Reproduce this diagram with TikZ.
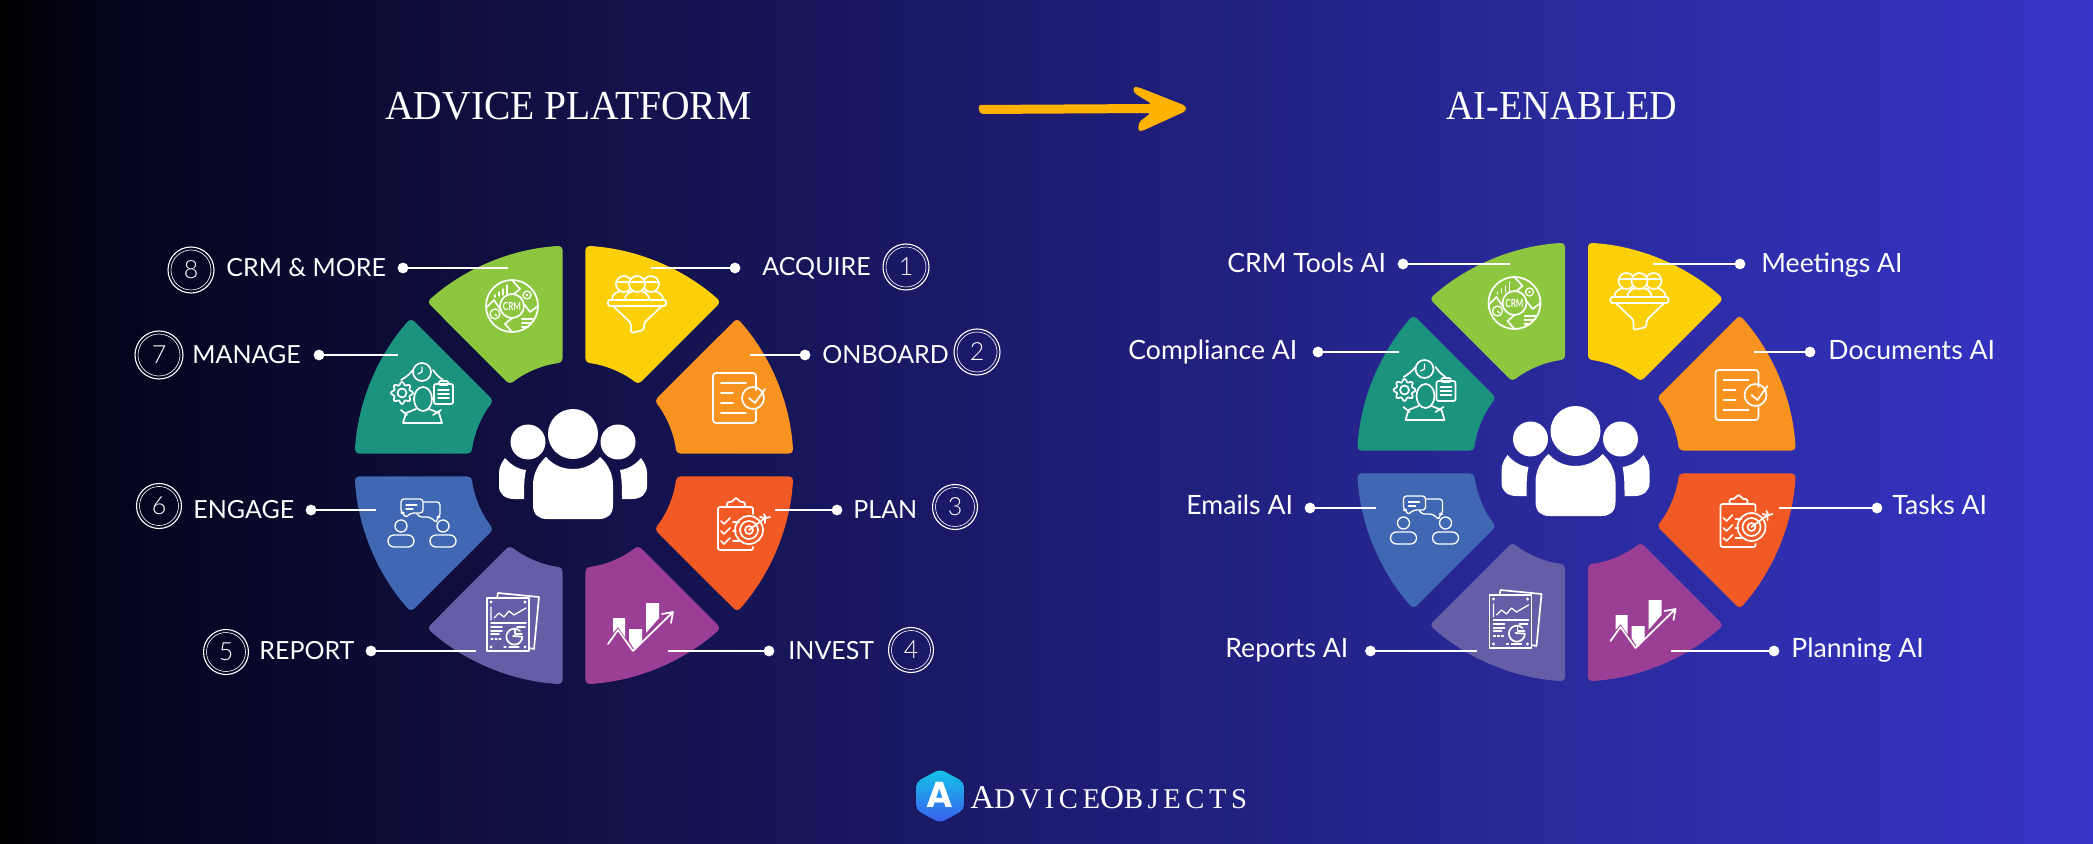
\documentclass[tikz,border=0pt]{standalone}
\usepackage{graphicx}
\usepackage{fontspec}
\setmainfont{Lato}
\newfontfamily\titlefont{Liberation Serif}
\newfontfamily\logofont[LetterSpace=16]{Liberation Serif}
\newfontfamily\logoA{Poppins}
\newfontfamily\thinfont{Lato Light}
\definecolor{bgA}{HTML}{000000}\definecolor{bgA2}{HTML}{020210}\definecolor{bgB}{HTML}{04041E}\definecolor{bgC}{HTML}{100F40}
\definecolor{bgD}{HTML}{1E1D75}\definecolor{bgE}{HTML}{2A2A9C}\definecolor{bgF}{HTML}{3634C6}
\definecolor{cgreen}{HTML}{8DC63F}\definecolor{cyellow}{HTML}{FCD008}\definecolor{corange}{HTML}{F8931F}
\definecolor{cred}{HTML}{F15A24}\definecolor{cpurple}{HTML}{9B3F96}\definecolor{cviolet}{HTML}{655EA6}
\definecolor{cblue}{HTML}{4068B2}\definecolor{cteal}{HTML}{1C937F}\definecolor{carrow}{HTML}{FFB300}
\definecolor{hexA}{HTML}{12C6E8}\definecolor{hexB}{HTML}{3C5CF0}
\pgfdeclarehorizontalshading{bgshade}{100bp}{color(0bp)=(bgA);color(25bp)=(bgA);color(26.4bp)=(bgA2);color(27.9bp)=(bgB);color(36.9bp)=(bgC);color(51.3bp)=(bgD);color(62.3bp)=(bgE);color(75bp)=(bgF);color(100bp)=(bgF)}
\tikzset{
 icon/.style={draw=white,line width=.85pt,line join=round,line cap=round},
 thinicon/.style={draw=white,line width=.65pt,line join=round,line cap=round},
 lab/.style={text=white,anchor=base west,inner sep=0pt,font=\fontsize{12.5}{15}\selectfont},
 rlab/.style={text=white,anchor=base west,inner sep=0pt,font=\fontsize{13.3}{16}\selectfont},
 dotn/.style={circle,fill=white,inner sep=0pt,minimum size=5.4pt},
 conn/.style={draw=white,line width=1.2pt},
 ringn/.style={circle,draw=white,line width=.55pt,inner sep=0pt,text=white,font=\thinfont\fontsize{12.5}{14}\selectfont},
 titlen/.style={text=white,anchor=base west,inner sep=0pt,font=\titlefont\fontsize{20.6}{24}\selectfont},
}
\newcommand\seg[2]{%
 \pgfmathsetmacro\aA{45*#1+3.0}\pgfmathsetmacro\aB{45*#1+45-3.0}%
 \pgfmathsetmacro\bA{45*#1+6.4}\pgfmathsetmacro\bB{45*#1+45-6.4}%
 \fill[#2,rounded corners=2pt] (\aA:219.5) arc (\aA:\aB:219.5) -- (\bB:103) arc (\bB:\bA:103) -- cycle;}
\newcommand\wheel[3]{%
\begin{scope}[shift={(#1,#2)}]
 \seg{0}{cred}\seg{1}{cpurple}\seg{2}{cviolet}\seg{3}{cblue}\seg{4}{cteal}\seg{5}{cgreen}\seg{6}{cyellow}\seg{7}{corange}
 % centre people
 \fill[white] (-1,-31) circle (25) (-46,-23) circle (17.5) (44,-23) circle (17.5);
 \fill[white] (-28,-8) .. controls (-20,1) and (-10,4) .. (-1,4) .. controls (8,4) and (18,1) .. (26,-8) .. controls (33,-2) and (39,8) .. (39,20) -- (39,40) .. controls (39,50) and (33,54) .. (25,54) -- (-27,54) .. controls (-35,54) and (-41,50) .. (-41,40) -- (-41,20) .. controls (-41,8) and (-35,-2) .. (-28,-8) -- cycle;
 \fill[white] (-69,-7) .. controls (-63,0) and (-56,4) .. (-48,5) .. controls (-50,14) and (-50,24) .. (-50,34) -- (-60,34) .. controls (-69,34) and (-75,29) .. (-75,21) -- (-75,8) .. controls (-75,2) and (-72,-3) .. (-69,-7) -- cycle;
 \fill[white] (67,-7) .. controls (61,0) and (54,4) .. (46,5) .. controls (48,14) and (48,24) .. (48,34) -- (58,34) .. controls (67,34) and (73,29) .. (73,21) -- (73,8) .. controls (73,2) and (70,-3) .. (67,-7) -- cycle;
 % CRM icon
 \begin{scope}[shift={(-62,-159)}]
  \draw[icon] (0,0) circle (26) (0,0) circle (12);
  \draw[icon] (0,-26) -- (8,-17) -- (2,-12) (12,-2) -- (18,6) -- (26,0) (0,12) -- (-7,18) -- (0,26) (-12,3) -- (-18,-6) -- (-26,2);
  \draw[thinicon] (-17,-11) -- (-17,-9) (-13,-14) -- (-13,-10) (-9,-17) -- (-9,-11) (-5,-21) -- (-5,-12);
  \draw[thinicon] (15,-11) circle (4); \fill[white] (15,-11) circle (1.4);
  \draw[thinicon] (-17,8) circle (5) (-17,8) -- (-15,10);
  \draw[icon] (10,13) -- (21,13) (10,17) -- (19,17) (10,21) -- (16,21);
  \node[text=white,inner sep=0pt,font=\fontsize{5.6}{6}\selectfont\bfseries] (#3crm) at (0,0) {\scalebox{.72}[1]{CRM}};
 \end{scope}
 % teal icon
 \draw[icon] (-152,-93) circle (9);
 \draw[thinicon] (-152,-98) -- (-152,-93) -- (-156,-91);
 \draw[icon] plot[domain=0:360,samples=65,smooth] ({-172+(9.5+1.5*cos(8*\x))*cos(\x)},{-72+(9.5+1.5*cos(8*\x))*sin(\x)});
 \draw[icon] (-172,-72) circle (4.5);
 \draw[icon,rounded corners=1pt] (-140,-81) rectangle (-121,-61);
 \draw[icon,rounded corners=.5pt] (-135,-84) rectangle (-126,-80);
 \draw[icon] (-136,-75) -- (-125,-75) (-136,-71) -- (-125,-71) (-136,-67) -- (-125,-67);
 \draw[icon] (-151,-66) ellipse (9 and 12);
 \draw[icon] (-171,-42) -- (-168,-52) -- (-158,-56) (-132,-42) -- (-135,-52) -- (-145,-56) (-171,-42) -- (-132,-42);
 \draw[icon] (-173,-85) to[bend left=10] (-161,-95) (-141,-95) to[bend left=10] (-131,-85) (-173,-55) -- (-167,-50) (-133,-55) -- (-141,-50);
 % funnel icon
 \foreach \hx/\hh in {50/cyellow,77/cyellow,63/cyellow}{
  \filldraw[icon,fill=\hh] (\hx-12,-165) .. controls (\hx-12,-172) and (\hx-6,-174) .. (\hx,-174) .. controls (\hx+6,-174) and (\hx+12,-172) .. (\hx+12,-165) -- cycle;
  \filldraw[icon,fill=\hh] (\hx,-181) circle (8);
  \draw[thinicon] (\hx-8,-183) -- (\hx+8,-183);
 }
 \draw[icon,rounded corners=1pt] (34,-165) rectangle (92,-159);
 \draw[icon,rounded corners=1pt] (39,-159) -- (57,-142) -- (57,-132) -- (70,-135) -- (70,-142) -- (88,-159);
 % document icon
 \draw[icon,rounded corners=1.5pt] (182,-75) -- (182,-92) -- (139,-92) -- (139,-42) -- (182,-42) -- (182,-55);
 \draw[icon] (147,-82) -- (172,-82) (147,-72) -- (159,-72) (147,-62) -- (159,-62) (147,-52) -- (172,-52);
 \draw[icon] (179,-67) circle (11);
 \draw[icon] (175,-67) -- (181,-62) -- (191,-76);
 % plan icon
 \draw[icon,rounded corners=1pt] (179,49) -- (179,42) -- (144,42) -- (144,85) -- (179,85) -- (179,82);
 \draw[icon,rounded corners=1pt] (153,42) -- (153,37) -- (159,37) -- (160,33) -- (164,33) -- (165,37) -- (171,37) -- (171,42) -- cycle;
 \draw[icon] (147,56) -- (150,59) -- (156,53) (147,66) -- (150,69) -- (156,63) (147,76) -- (150,79) -- (156,73) (159,57) -- (165,57) (159,66) -- (162,66) (159,76) -- (165,76);
 \draw[icon] (175,65) circle (14) (175,65) circle (9) (175,65) circle (4);
 \draw[icon] (175,65) -- (191,53) (186,52) -- (191,53) -- (191,58) (190,49) -- (192,53) -- (196,52);
 % invest icon
 \fill[white] (39,153) -- (51,153) -- (51,172) -- (44,162) -- (39,168) -- cycle;
 \fill[white] (55,164) -- (68,164) -- (68,176) -- (60,184) -- (55,176) -- cycle;
 \fill[white] (72,138) -- (85,138) -- (85,153) -- (72,168) -- cycle;
 \draw[icon] (34,179) -- (44,165) -- (59,186) -- (99,147) (88,149) -- (99,147) -- (97,158);
 % report icon
 \draw[icon] (-87,133) rectangle (-45,186);
 \draw[icon] (-77,133) -- (-76,128) -- (-35,132) -- (-40,184) -- (-45,183);
 \fill[white] (-83,137) circle (1.6) (-49,137) circle (1.6) (-83,182) circle (1.6) (-49,182) circle (1.6);
 \draw[thinicon] (-83,142) -- (-83,155) (-80,153) -- (-75,148) -- (-70,152) -- (-65,146) -- (-60,150) -- (-48,143);
 \draw[icon] (-83,158) -- (-48,158) (-83,162) -- (-72,162) (-83,166) -- (-72,166) (-83,169) -- (-75,169);
 \draw[thinicon] (-83,174) -- (-81,174) (-79,174) -- (-77,174) (-75,174) -- (-73,174) (-70,182) -- (-68,182) (-65,182) -- (-55,182);
 \draw[icon] (-54,166) arc (-45:-360+0:8) -- (-61,171);
 \draw[icon] (-59,164) -- (-59,169) -- (-52,169) (-57,162) -- (-49,162);
 % engage icon
 \draw[thinicon,rounded corners=1.5pt] (-170,48) -- (-173,48) -- (-173,34) -- (-151,34) -- (-151,48) -- (-163,48) -- (-169,53) -- cycle;
 \draw[thinicon] (-168,40) -- (-157,40) (-168,44) -- (-161,44);
 \draw[thinicon,rounded corners=1.5pt] (-150,37) -- (-134,37) -- (-134,52) -- (-137,52) -- (-137,58) -- (-144,52) -- (-155,52) -- (-157,49);
 \draw[thinicon] (-173,61) circle (6) (-131,61) circle (6);
 \draw[thinicon,rounded corners=3pt] (-186,82) -- (-186,70) -- (-160,70) -- (-160,82) -- cycle;
 \draw[thinicon,rounded corners=3pt] (-144,82) -- (-144,70) -- (-118,70) -- (-118,82) -- cycle;
\end{scope}}
\newcommand\lab[4]{\node[lab] (#1) at (#2,#3+2) {#4};}
\newcommand\rlabn[4]{\node[rlab] (#1) at (#2,#3+1.5) {#4};}
\newcommand\conn[4]{\node[dotn] (#1d) at (#2,#3) {}; \coordinate (#1e) at (#4,#3); \draw[conn] (#1d.center) -- (#1e);}
\newcommand\numring[5]{\node[ringn,minimum size=#5pt] (#1) at (#2,#3) {#4}; \draw[white,line width=.3pt] (#1.center) circle (#5-3);}
\begin{document}
\begin{tikzpicture}[x=.5pt,y=.5pt,yscale=-1]
\useasboundingbox (0,0) rectangle (2093,844);
\fill[shading=bgshade] (0,0) rectangle (2093,844);
% titles
\node[titlen] (t1) at (385,120) {\scalebox{.96}[1]{ADVICE PLATFORM}};
\node[titlen] (t2) at (1446,120) {\scalebox{.925}[1]{AI-ENABLED}};
\fill[carrow,rounded corners=1.5pt] (978,105) -- (1152,104) -- (1134,93) -- (1133,87) -- (1138,87) -- (1186,106) -- (1186,111) -- (1142,131) -- (1138,131) -- (1139,122) -- (1151,113) -- (980,114) -- cycle;
% wheels
\wheel{574}{465}{L}
\wheel{1576.5}{462}{R}
% left connectors
\conn{a8}{403}{268}{508}
\conn{a7}{319}{355}{398}
\conn{a6}{311}{510}{376}
\conn{a5}{371}{651}{476}
\conn{a1}{735}{268}{651}
\conn{a2}{805}{355}{750}
\conn{a3}{837}{510}{775}
\conn{a4}{769}{651}{668}
% left labels
\lab{l8}{226}{275}{CRM \& MORE}
\lab{l7}{192}{362}{MANAGE}
\lab{l6}{193}{516}{ENGAGE}
\lab{l5}{259}{657}{REPORT}
\lab{l1}{762}{274}{ACQUIRE}
\lab{l2}{822}{362}{ONBOARD}
\lab{l3}{853}{516}{PLAN}
\lab{l4}{788}{657}{INVEST}
\numring{n8}{191}{270}{8}{23}
\numring{n7}{159}{355}{7}{24}
\numring{n6}{159}{506}{6}{22.5}
\numring{n5}{226}{652}{5}{22.5}
\numring{n1}{906}{267}{1}{23}
\numring{n2}{977}{352}{2}{23}
\numring{n3}{955}{507}{3}{22.5}
\numring{n4}{911}{650}{4}{22.5}
% right connectors
\conn{b8}{1403}{264}{1510}
\conn{b7}{1318}{352}{1399}
\conn{b6}{1310}{508}{1376}
\conn{b5}{1370.5}{651}{1477}
\conn{b1}{1740}{264}{1653}
\conn{b2}{1810}{352}{1754}
\conn{b3}{1877}{508}{1779}
\conn{b4}{1774}{651}{1671}
% right labels
\rlabn{r8}{1227}{271}{CRM Tools AI}
\rlabn{r7}{1128}{358}{Compliance AI}
\rlabn{r6}{1186}{513}{Emails AI}
\rlabn{r5}{1225}{656}{Reports AI}
\rlabn{r1}{1761}{271}{Meetings AI}
\rlabn{r2}{1828}{358}{Documents AI}
\rlabn{r3}{1892}{513}{Tasks AI}
\rlabn{r4}{1791}{656}{Planning AI}
% logo
\fill[top color=hexA,bottom color=hexB,rounded corners=2.5pt] (940,769) -- (964,782) -- (964,810) -- (940,823) -- (916,810) -- (916,782) -- cycle;
\node[text=white,inner sep=0pt,font=\logoA\bfseries\fontsize{18}{22}\selectfont] (logoa) at (940,795) {A};
\node[text=white,anchor=base west,inner sep=0pt] (logot) at (970,808) {\logofont\fontsize{16.6}{18}\selectfont A\fontsize{14.3}{18}\selectfont DVICE\fontsize{16.6}{18}\selectfont O\fontsize{14.3}{18}\selectfont BJECTS};
\end{tikzpicture}
\end{document}
